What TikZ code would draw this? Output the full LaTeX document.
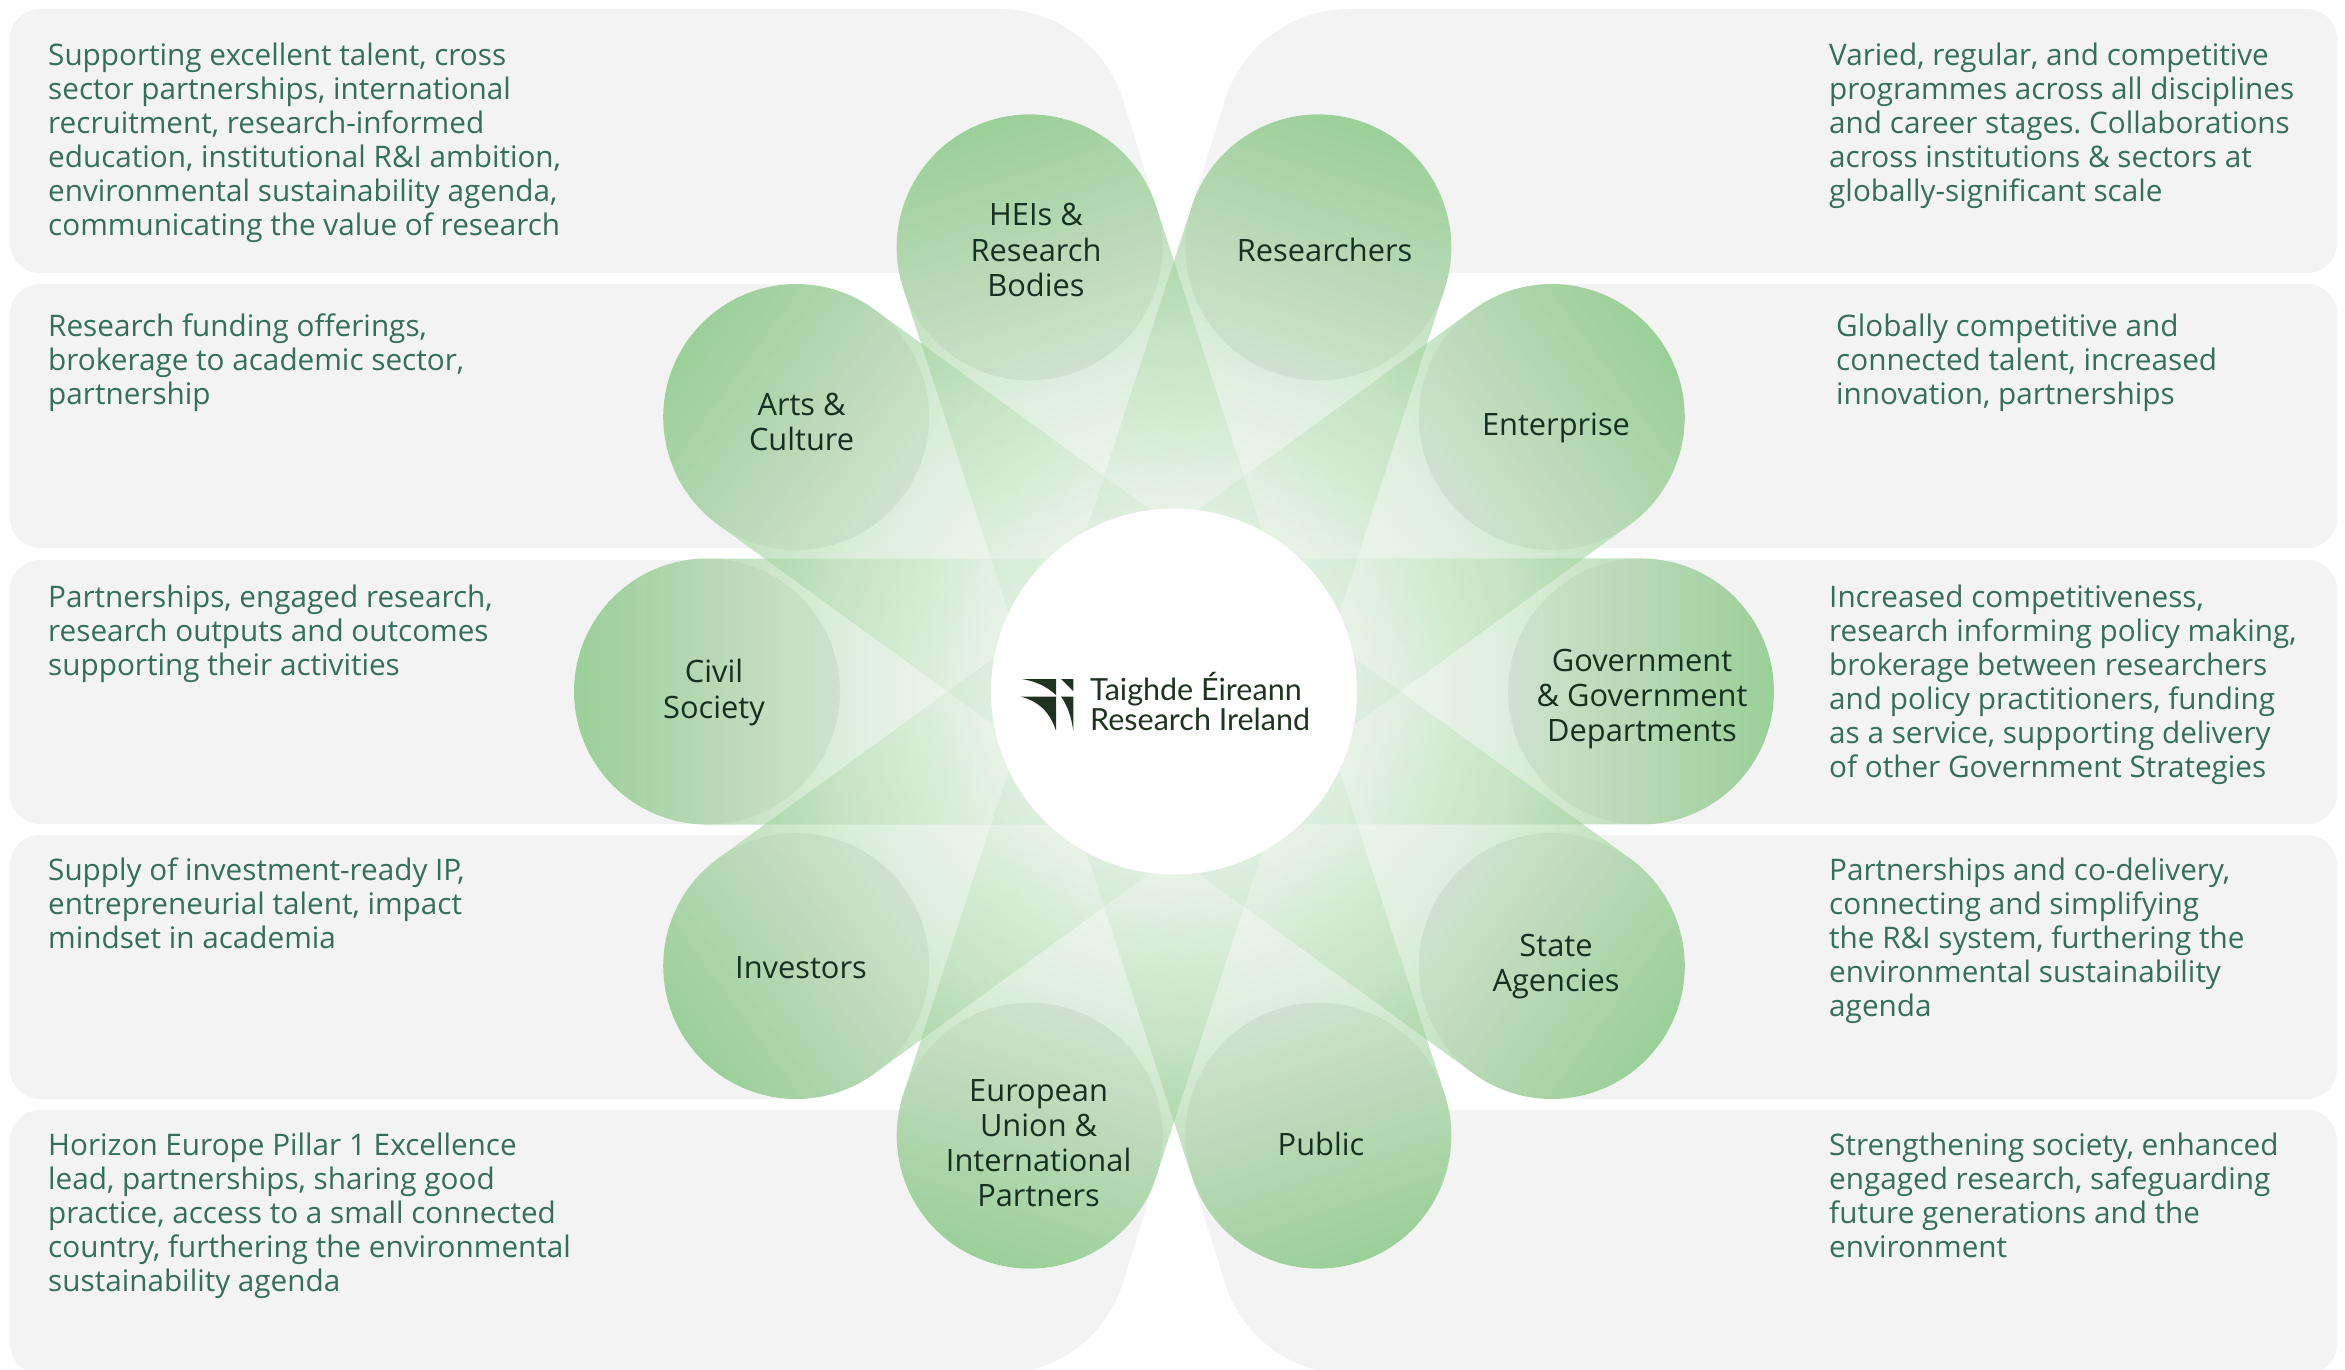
\documentclass[tikz,border=0pt]{standalone}
\usepackage{fontspec}
\setmainfont{Open Sans}
\newfontfamily\logofont{Lato}
\usetikzlibrary{fadings}
\definecolor{cardgray}{HTML}{F3F3F3}
\definecolor{petalgreen}{RGB}{155,208,152}
\definecolor{desctext}{HTML}{336F5A}
\definecolor{labeltext}{HTML}{16301F}
\definecolor{logodark}{HTML}{1F3320}
% fading masks run along local x: inner end at 25bp, outer end at 75bp
\pgfdeclarehorizontalshading{capsulemask}{100bp}{
  color(0bp)=(pgftransparent!94);
  color(25bp)=(pgftransparent!94);
  color(40.25bp)=(pgftransparent!87);
  color(52.83bp)=(pgftransparent!66);
  color(75bp)=(pgftransparent!0);
  color(100bp)=(pgftransparent!0)}
\pgfdeclarefading{capsulefade}{\pgfuseshading{capsulemask}}
\pgfdeclarehorizontalshading{discmask}{100bp}{
  color(0bp)=(pgftransparent!0);
  color(25bp)=(pgftransparent!0);
  color(75bp)=(pgftransparent!100);
  color(100bp)=(pgftransparent!100)}
\pgfdeclarefading{discfade}{\pgfuseshading{discmask}}
\newcommand\descfont{\fontsize{29.7}{34}\selectfont}
\newcommand\labelfont{\fontsize{30.8}{35.2}\selectfont}
\newcommand\capsulepath{(0,-133) -- (467,-133) arc[start angle=-90,end angle=90,radius=133] -- (0,133) -- cycle}
\tikzset{
  cardshape/.style={fill=cardgray,draw=none},
  desc/.style={anchor=north west,inner sep=0pt,align=left,text=desctext,font=\descfont},
  petallabel/.style={anchor=center,inner sep=0pt,align=center,text=labeltext,font=\labelfont},
  logotext/.style={anchor=base west,inner sep=0pt,text=logodark,font=\logofont\fontsize{30.5}{30}\selectfont},
}
\newcommand\descnode[4]{\node[desc] (#1) at ({#2},{#3-23.8}) {\strut #4};}
\frenchspacing
\begin{document}
\begin{tikzpicture}[x=1pt,y=-1pt]
\useasboundingbox (0,0) rectangle (2345,1370);
\begin{scope}
\clip (0,0) rectangle (2345,1370);
% cards
\fill[cardshape] (40,9) -- (999,9) arc[start angle=-90,end angle=-18,radius=130] -- (1173.4,263) -- (1030,273) -- (40,273) arc[start angle=90,end angle=180,radius=30] -- (10,39) arc[start angle=180,end angle=270,radius=30] -- cycle;
\fill[cardshape] (2307,9) -- (1349,9) arc[start angle=270,end angle=198,radius=130] -- (1174.6,263) -- (1315,273) -- (2307,273) arc[start angle=90,end angle=0,radius=30] -- (2337,39) arc[start angle=0,end angle=-90,radius=30] -- cycle;
\fill[cardshape] (40,284) -- (795,284) -- (795,548) -- (40,548) arc[start angle=90,end angle=180,radius=30] -- (10,314) arc[start angle=180,end angle=270,radius=30] -- cycle;
\fill[cardshape] (2307,284) -- (1552,284) -- (1552,548) -- (2307,548) arc[start angle=90,end angle=0,radius=30] -- (2337,314) arc[start angle=0,end angle=-90,radius=30] -- cycle;
\fill[cardshape] (40,560) -- (706,560) -- (706,824) -- (40,824) arc[start angle=90,end angle=180,radius=30] -- (10,590) arc[start angle=180,end angle=270,radius=30] -- cycle;
\fill[cardshape] (2307,560) -- (1642,560) -- (1642,824) -- (2307,824) arc[start angle=90,end angle=0,radius=30] -- (2337,590) arc[start angle=0,end angle=-90,radius=30] -- cycle;
\fill[cardshape] (40,835) -- (795,835) -- (795,1099) -- (40,1099) arc[start angle=90,end angle=180,radius=30] -- (10,865) arc[start angle=180,end angle=270,radius=30] -- cycle;
\fill[cardshape] (2307,835) -- (1552,835) -- (1552,1099) -- (2307,1099) arc[start angle=90,end angle=0,radius=30] -- (2337,865) arc[start angle=0,end angle=-90,radius=30] -- cycle;
\fill[cardshape] (40,1374) -- (999,1374) arc[start angle=90,end angle=18,radius=130] -- (1173.4,1120) -- (1030,1110) -- (40,1110) arc[start angle=-90,end angle=-180,radius=30] -- (10,1344) arc[start angle=180,end angle=90,radius=30] -- cycle;
\fill[cardshape] (2307,1374) -- (1349,1374) arc[start angle=90,end angle=162,radius=130] -- (1174.6,1120) -- (1315,1110) -- (2307,1110) arc[start angle=-90,end angle=0,radius=30] -- (2337,1344) arc[start angle=0,end angle=90,radius=30] -- cycle;
\end{scope}
% white base under every petal, so that the card edges do not show through
\foreach \ang in {108,72,36,0,-36,-72,-108,-144,180,144}{
  \begin{scope}[transform canvas={shift={(1174,691.5)},rotate=\ang}]
    \fill[white] \capsulepath;
  \end{scope}
}
% petals
\foreach \ang in {108,72,36,0,-36,-72,-108,-144,180,144}{
  \begin{scope}[transform canvas={shift={(1174,691.5)},rotate=\ang}]
    \fill[petalgreen,path fading=capsulefade] \capsulepath;
    \fill[black,fill opacity=.05,path fading=discfade] (467,0) circle[radius=133];
  \end{scope}
}
% centre
\node[circle,fill=white,inner sep=0pt,minimum size=366pt] (hub) at (1174,691.5) {};
% logo
\fill[logodark] (1021.7,679) -- (1056,679) -- (1056,695) .. controls (1046,686) and (1035,681) .. cycle;
\fill[logodark] (1061,679) -- (1073.3,679) -- (1073.3,691.3) -- cycle;
\fill[logodark] (1021,696.7) -- (1056,696.7) -- (1056,730.7) .. controls (1050,712) and (1038,701) .. cycle;
\fill[logodark] (1061,696.7) -- (1073.3,696.7) -- (1073.3,730.7) .. controls (1071,715) and (1067,705) .. cycle;
\node[logotext] (logoa) at (1090,700) {Taighde Éireann};
\node[logotext] (logob) at (1090,730) {Research Ireland};
% petal labels
\node[petallabel] (heis) at (1036,254) {\strut HEIs \&\\Research\\Bodies\strut};
\node[petallabel] (researchers) at (1324.6,254) {\strut Researchers\strut};
\node[petallabel] (arts) at (801.6,426) {\strut Arts \&\\Culture\strut};
\node[petallabel] (enterprise) at (1556,428) {\strut Enterprise\strut};
\node[petallabel] (civil) at (714,693.5) {\strut Civil\\Society\strut};
\node[petallabel] (gov) at (1642,699.2) {\strut Government\\\& Government\\Departments\strut};
\node[petallabel] (investors) at (801,971.5) {\strut Investors\strut};
\node[petallabel] (state) at (1556,967) {\strut State\\Agencies\strut};
\node[petallabel] (eu) at (1038.6,1147.1) {\strut European\\Union \&\\International\\Partners\strut};
\node[petallabel] (public) at (1321,1148) {\strut Public\strut};
% descriptions
\descnode{dl1}{48}{65}{Supporting excellent talent, cross\\sector partnerships, international\\recruitment, research-informed\\education, institutional R\&I ambition,\\environmental sustainability agenda,\\communicating the value of research}
\descnode{dl2}{48}{336}{Research funding offerings,\\brokerage to academic sector,\\partnership}
\descnode{dl3}{48}{607}{Partnerships, engaged research,\\research outputs and outcomes\\supporting their activities}
\descnode{dl4}{48}{880.5}{Supply of investment-ready IP,\\entrepreneurial talent, impact\\mindset in academia}
\descnode{dl5}{48}{1155}{Horizon Europe Pillar 1 Excellence\\lead, partnerships, sharing good\\practice, access to a small connected\\country, furthering the environmental\\sustainability agenda}
\descnode{dr1}{1829}{65}{Varied, regular, and competitive\\programmes across all disciplines\\and career stages. Collaborations\\across institutions \& sectors at\\globally-significant scale}
\descnode{dr2}{1836}{336}{Globally competitive and\\connected talent, increased\\innovation, partnerships}
\descnode{dr3}{1829}{607}{Increased competitiveness,\\research informing policy making,\\brokerage between researchers\\and policy practitioners, funding\\as a service, supporting delivery\\of other Government Strategies}
\descnode{dr4}{1829}{880.5}{Partnerships and co-delivery,\\connecting and simplifying\\the R\&I system, furthering the\\environmental sustainability\\agenda}
\descnode{dr5}{1829}{1155}{Strengthening society, enhanced\\engaged research, safeguarding\\future generations and the\\environment}
\end{tikzpicture}
\end{document}
